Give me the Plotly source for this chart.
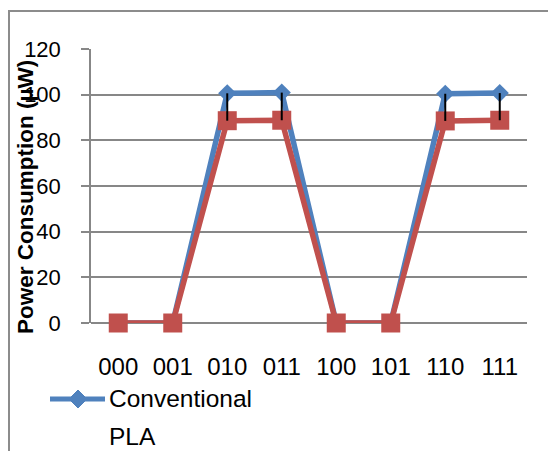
import plotly.graph_objects as go

# Input combinations of the 3-bit PLA and measured power (µW)
codes = ["000", "001", "010", "011", "100", "101", "110", "111"]
conventional = [0, 0, 100.6, 100.9, 0, 0, 100.4, 100.7]
pla = [0, 0, 88.6, 88.8, 0, 0, 88.5, 88.8]
y_ticks = [0, 20, 40, 60, 80, 100, 120]
series_names = ["Conventional", "PLA"]

BLUE = "#4F81BD"
RED = "#C0504D"
GRID = "#878787"
FONT = "Liberation Sans, Arial, sans-serif"

W, H = 548, 451
L, R, T, B = 91, 21, 49, 128
pw, ph = W - L - R, H - T - B


def px_x(px):
    return (px - L) / pw


def px_y(py):
    return (H - B - py) / ph


fig = go.Figure()

fig.add_trace(go.Scatter(
    x=codes, y=conventional, name=series_names[0], mode="lines+markers",
    line=dict(color=BLUE, width=5.5),
    marker=dict(symbol="diamond", size=14, color=BLUE),
    cliponaxis=False, showlegend=False,
))
fig.add_trace(go.Scatter(
    x=codes, y=pla, name=series_names[1], mode="lines+markers",
    line=dict(color=RED, width=5.5),
    marker=dict(symbol="square", size=19, color=RED),
    cliponaxis=False, showlegend=False,
))

# high-low lines joining the two series at every input code
hl_x, hl_y = [], []
for c, hi, lo in zip(codes, conventional, pla):
    hl_x += [c, c, None]
    hl_y += [hi, lo, None]
fig.add_trace(go.Scatter(
    x=hl_x, y=hl_y, mode="lines", showlegend=False,
    line=dict(color="black", width=2), hoverinfo="skip",
))

# legend key below the plot: long line with a diamond for the first series
key_y = 399
key_x0, key_x1, key_xc, d = 50, 105, 78, 9
diamond_path = "M {},{} L {},{} L {},{} L {},{} Z".format(
    px_x(key_xc - d), px_y(key_y), px_x(key_xc), px_y(key_y - d),
    px_x(key_xc + d), px_y(key_y), px_x(key_xc), px_y(key_y + d),
)

shapes = [
    dict(type="rect", xref="paper", yref="paper",
         x0=px_x(9), x1=px_x(570), y0=px_y(11), y1=px_y(480),
         line=dict(color="#8C8C8C", width=2), fillcolor="rgba(0,0,0,0)",
         layer="below"),
    dict(type="line", xref="paper", yref="paper",
         x0=px_x(key_x0), x1=px_x(key_x1), y0=px_y(key_y), y1=px_y(key_y),
         line=dict(color=BLUE, width=5)),
    dict(type="path", xref="paper", yref="paper", path=diamond_path,
         fillcolor=BLUE, line=dict(color=BLUE, width=1)),
]

legend_font = dict(size=24.5, family=FONT, color="black")
annotations = [
    dict(text="<b>Power Consumption (µW)</b>", textangle=-90,
         xref="paper", yref="paper", x=px_x(25), y=px_y(197),
         xanchor="center", yanchor="middle", showarrow=False,
         font=dict(size=22.5, family=FONT, color="black")),
    dict(text=series_names[0], xref="paper", yref="paper",
         x=px_x(107), y=px_y(key_y - 1), xanchor="left", yanchor="middle",
         showarrow=False, font=legend_font),
    dict(text=series_names[1], xref="paper", yref="paper",
         x=px_x(107), y=px_y(key_y + 37), xanchor="left", yanchor="middle",
         showarrow=False, font=legend_font),
]

fig.update_layout(
    width=W, height=H,
    margin=dict(l=L, r=R, t=T, b=B, autoexpand=False),
    paper_bgcolor="white", plot_bgcolor="white",
    font=dict(family=FONT, color="black", size=22),
    showlegend=False,
    xaxis=dict(
        type="category", categoryorder="array", categoryarray=codes,
        range=[-0.5, 7.5], showgrid=False, zeroline=False,
        showline=False, ticks="", ticklabelstandoff=27,
        tickfont=dict(size=24, family=FONT, color="black"),
        fixedrange=True,
    ),
    yaxis=dict(
        range=[0, 120], tickvals=y_ticks, ticktext=[str(v) for v in y_ticks],
        showgrid=True, gridcolor=GRID, gridwidth=1.5,
        zeroline=True, zerolinecolor=GRID, zerolinewidth=1.5,
        showline=True, linecolor=GRID, linewidth=1.5,
        ticks="outside", ticklen=8, tickcolor=GRID, tickwidth=1.5,
        ticklabelstandoff=16,
        tickfont=dict(size=22, family=FONT, color="black"),
        fixedrange=True,
    ),
    annotations=annotations,
    shapes=shapes,
)

fig.write_html("out.html")
